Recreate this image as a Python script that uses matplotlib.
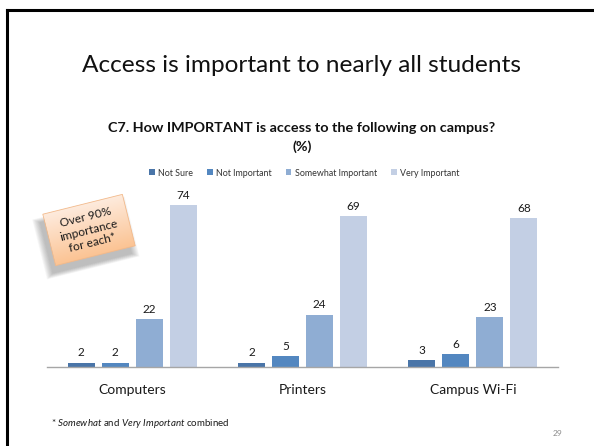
import numpy as np
import matplotlib.pyplot as plt
from matplotlib.patches import Polygon
from matplotlib.lines import Line2D
from matplotlib.colors import LinearSegmentedColormap
import matplotlib.transforms as mtransforms

plt.rcParams["font.family"] = ["Lato", "DejaVu Sans"]
plt.rcParams["mathtext.fontset"] = "custom"
plt.rcParams["mathtext.rm"] = "Lato"
plt.rcParams["mathtext.it"] = "Lato:italic"

W, H = 594, 446

categories = ["Computers", "Printers", "Campus Wi-Fi"]
series     = ["Not Sure", "Not Important", "Somewhat Important", "Very Important"]
not_sure       = [2, 2, 3]
not_important  = [2, 5, 6]
somewhat_imp   = [22, 24, 23]
very_imp       = [74, 69, 68]
colors = ["#4A75A8", "#5387C0", "#8FADD3", "#C3CFE4"]


def fx(x):
    return x / W


def fy(y):
    return 1 - y / H


fig = plt.figure(figsize=(W / 100, H / 100), dpi=100)
fig.patch.set_facecolor("white")

# slide frame (only top and left edges are visible)
fig.add_artist(Line2D([fx(7), fx(7)], [0, fy(10)], color="black", lw=2.2))
fig.add_artist(Line2D([fx(7), 1], [fy(10), fy(10)], color="black", lw=2.2))

fig.text(fx(302), fy(66), "Access is important to nearly all students",
         ha="center", va="center", fontsize=17.6, color="#111111")
fig.text(fx(302), fy(128), "C7. How IMPORTANT is access to the following on campus?",
         ha="center", va="center", fontsize=10.4, fontweight="bold", color="#111111")
fig.text(fx(302), fy(147), "(%)", ha="center", va="center",
         fontsize=10.4, fontweight="bold", color="#111111")

# bar chart
ax = fig.add_axes([fx(47), fy(367), fx(558) - fx(47), (367 - 192) / H])
x = np.arange(len(categories))
step, width = 0.2, 0.158
handles = []
for i, (vals, c) in enumerate(zip([not_sure, not_important, somewhat_imp, very_imp], colors)):
    bars = ax.bar(x + (i - 1.5) * step, vals, width, color=c, label=series[i])
    handles.append(bars)
    for b, v in zip(bars, vals):
        ax.annotate(str(v), (b.get_x() + b.get_width() / 2, v), xytext=(0, 3),
                    textcoords="offset points", ha="center", va="bottom",
                    fontsize=8.5, color="#1a1a1a")

ax.set_xlim(-0.5, 2.5)
ax.set_ylim(0, 80)
ax.set_xticks(x)
ax.set_xticklabels(categories, fontsize=10, color="#1a1a1a")
ax.tick_params(axis="x", length=0, pad=12)
ax.set_yticks([])
for side in ["top", "right", "left"]:
    ax.spines[side].set_visible(False)
ax.spines["bottom"].set_color("#A6A6A6")
ax.spines["bottom"].set_linewidth(1.0)

fig.legend(handles=handles, labels=series, loc="center", bbox_to_anchor=(fx(304), fy(173)),
           ncol=4, frameon=False, fontsize=6.4, handlelength=0.65, handleheight=0.65,
           handletextpad=0.35, columnspacing=1.6, labelcolor="#333333")

# callout note on top of everything, drawn in pixel coordinates
ov = fig.add_axes([0, 0, 1, 1], zorder=5)
ov.axis("off")
ov.patch.set_alpha(0)

cx, cy, nw, nh, ang = 89, 230, 82, 53, -14
rect = np.array([[cx - nw / 2, cy - nh / 2], [cx + nw / 2, cy - nh / 2],
                 [cx + nw / 2, cy + nh / 2], [cx - nw / 2, cy + nh / 2]])
rot = mtransforms.Affine2D().rotate_deg_around(cx, cy, ang)

# soft shadow
for k in range(10):
    grow = 1 + k * 0.018
    pts = (rect - [cx, cy]) * grow + [cx - 5, cy + 7]
    ov.add_patch(Polygon(pts, closed=True, color="#555555", alpha=0.045,
                         lw=0, transform=rot + ov.transData))

note = Polygon(rect, closed=True, facecolor="none", edgecolor="#F2B98A", lw=0.6,
               transform=rot + ov.transData, zorder=2)
ov.add_patch(note)
grad = np.linspace(0, 1, 64).reshape(-1, 1)
cmap = LinearSegmentedColormap.from_list("peach", ["#FEEBDD", "#FBC393"])
img = ov.imshow(grad, cmap=cmap, aspect="auto", origin="upper",
                extent=(cx - nw / 2, cx + nw / 2, cy + nh / 2, cy - nh / 2),
                transform=rot + ov.transData, zorder=1)
img.set_clip_path(note)
ov.set_xlim(0, W)
ov.set_ylim(H, 0)
ov.text(cx, cy, "Over 90%\nimportance\nfor each*", ha="center", va="center",
        rotation=14, rotation_mode="anchor", fontsize=8.6, linespacing=1.2,
        color="#1a1a1a", zorder=3)

fig.text(fx(51), fy(423), r"* $\it{Somewhat}$ and $\it{Very\ Important}$ combined",
         fontsize=7, va="center", color="#1a1a1a")
fig.text(fx(558), fy(433), "29", ha="center", va="center", fontsize=6, color="#8C8C8C")

fig.savefig("out.png", dpi=100)
